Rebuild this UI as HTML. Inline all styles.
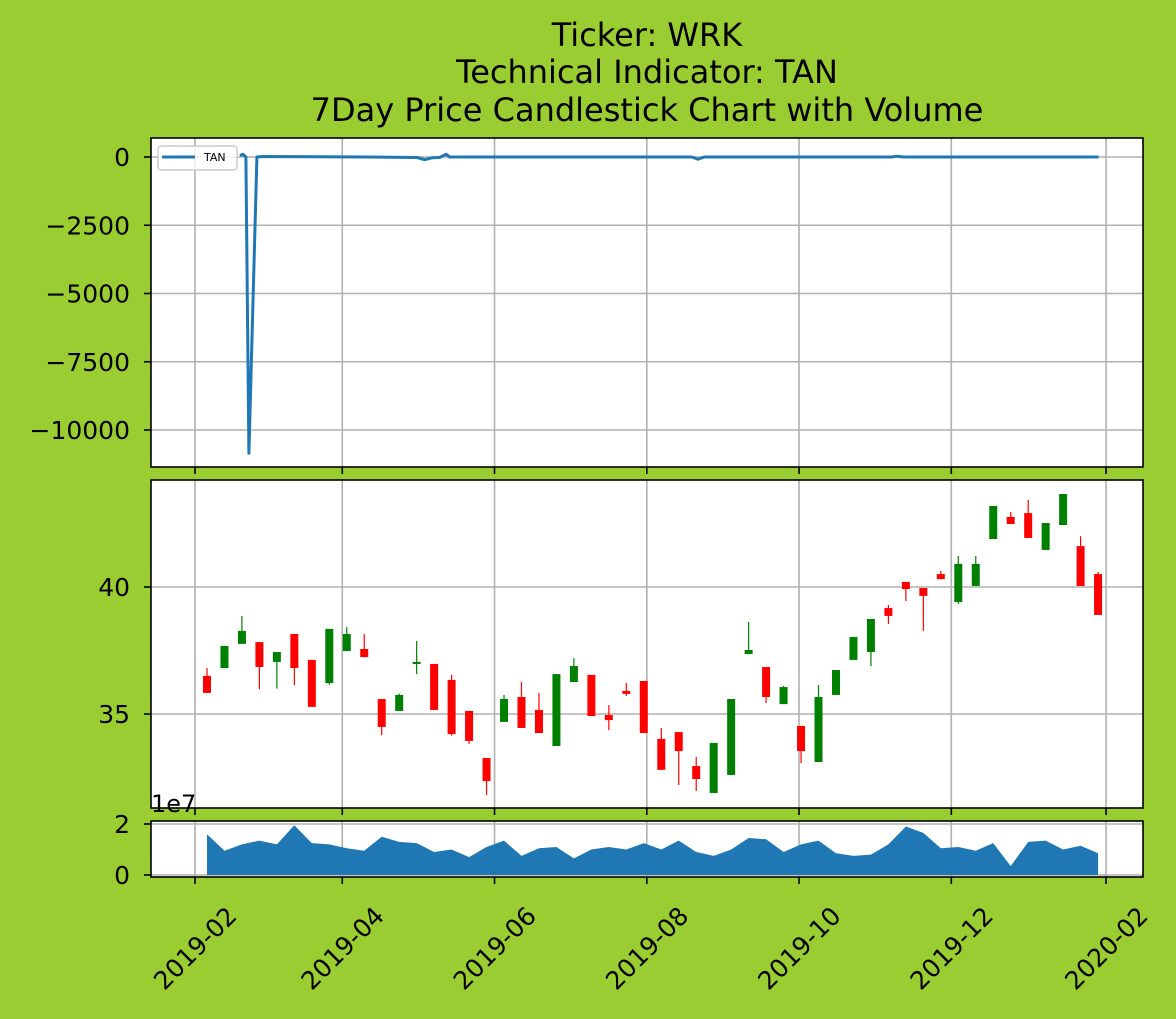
<!DOCTYPE html>
<html><head><meta charset="utf-8">
<style>
html,body{margin:0;padding:0;background:#9acd32;}
svg{display:block;font-family:"DejaVu Sans","Liberation Sans",sans-serif;}
</style></head>
<body>
<svg id="chart" width="1176" height="1019" viewBox="0 0 1176 1019" xmlns="http://www.w3.org/2000/svg">
<rect x="0" y="0" width="1176" height="1019" fill="#9acd32"/>
<g font-size="32" text-anchor="middle" fill="#000">
<text x="647" y="46">Ticker: WRK</text>
<text x="647" y="83">Technical Indicator: TAN</text>
<text x="647" y="121">7Day Price Candlestick Chart with Volume</text>
</g>
<g id="g"></g>
</svg>
<script>
// x tick data (day of year 2019)
const xTickDays = [31, 90, 151, 212, 273, 334, 396];
const xTickLabels = ["2019-02","2019-04","2019-06","2019-08","2019-10","2019-12","2020-02"];
// TAN indicator
const tanDays = [49, 50.2, 51.4, 52.6, 55.8, 58, 100, 120, 123, 126, 129, 131.6, 133, 180, 230, 232.5, 235, 290, 310, 312, 315, 360, 393];
const tanValues = [50, 100, 0, -10850, 0, 20, 0, -20, -100, -30, -20, 100, 0, 0, 0, -80, 0, 0, 0, 30, 0, 0, 0];
const tanTicks = [0, -2500, -5000, -7500, -10000];
const tanTickLabels = ["0","\u22122500","\u22125000","\u22127500","\u221210000"];
// weekly candles
const firstCandleDay = 35.8;
const opens  = [36.50,36.81,37.76,37.83,37.05,38.15,37.13,36.22,37.48,37.56,35.59,35.12,36.97,36.97,36.34,35.12,33.27,34.69,35.67,35.16,33.74,36.26,36.54,34.96,35.91,36.30,34.02,34.29,32.95,31.89,32.60,37.36,36.85,35.39,34.53,33.11,35.75,37.13,37.44,39.17,40.20,39.96,40.51,39.41,40.04,41.89,42.76,42.91,41.46,42.44,41.61,40.51];
const closes = [35.83,37.68,38.27,36.85,37.44,36.81,35.28,38.35,38.15,37.24,34.49,35.75,37.05,35.16,34.21,33.94,32.36,35.59,34.45,34.25,36.57,36.89,34.92,34.76,35.79,34.25,32.80,33.54,32.44,33.86,35.59,37.52,35.67,36.06,33.54,35.67,36.73,38.03,38.74,38.86,39.92,39.65,40.31,40.91,40.91,43.19,42.48,41.93,42.52,43.66,40.04,38.90];
const highs  = [36.81,37.68,38.86,37.83,37.44,38.15,37.13,38.35,38.43,38.15,35.59,35.80,37.87,36.97,36.54,35.12,33.27,35.75,36.26,35.83,36.57,37.20,36.54,35.35,36.22,36.30,34.45,34.29,33.31,33.86,35.59,38.62,36.85,36.10,34.53,36.14,36.73,38.03,38.74,39.29,40.20,39.96,40.63,41.22,41.22,43.19,42.95,43.43,42.52,43.66,42.00,40.59];
const lows   = [35.83,36.81,37.76,35.98,36.00,36.14,35.28,36.15,37.48,37.24,34.17,35.12,36.57,35.16,34.15,33.82,31.81,34.69,34.45,34.25,33.74,36.26,34.92,34.37,35.71,34.25,32.80,32.20,31.97,31.89,32.60,37.36,35.43,35.39,33.07,33.11,35.75,37.13,36.89,38.54,39.45,38.27,40.31,39.33,40.04,41.89,42.48,41.93,41.46,42.44,40.04,38.90];
const priceTicks = [35, 40];
const priceTickLabels = ["35","40"];
// volume (units of 1e7)
const volumes = [1.6,0.95,1.2,1.35,1.2,1.95,1.25,1.2,1.05,0.95,1.5,1.3,1.25,0.9,1.0,0.7,1.1,1.35,0.75,1.05,1.1,0.65,1.0,1.1,1.0,1.25,1.0,1.35,0.9,0.75,1.0,1.45,1.4,0.9,1.2,1.35,0.85,0.75,0.8,1.2,1.9,1.65,1.05,1.1,0.95,1.25,0.35,1.3,1.35,1.0,1.15,0.85];
const volTicks = [0, 2];
const volTickLabels = ["0","2"];

const NS="http://www.w3.org/2000/svg";
const G=document.getElementById('g');
function el(tag, attrs, parent){const e=document.createElementNS(NS,tag);for(const k in attrs)e.setAttribute(k,attrs[k]);(parent||G).appendChild(e);return e;}
const L=151,R=1143;
const x=d=>L+(d-13.37)/(410.8-13.37)*(R-L);
const P1={t:138,b:467}, P2={t:480,b:808}, P3={t:821,b:877};
const yTan=v=>157-(v/1000)*27.3;
const yPrice=v=>587-(v-40)*25.4;
const yVol=v=>875-v*25.5;

function panel(p,name){
  const g=el('g',{});
  
  
  el('rect',{x:L,y:p.t,width:R-L,height:p.b-p.t,fill:'#fff'},g);
  xTickDays.forEach(d=>{const l=el('line',{x1:x(d),x2:x(d),y1:p.t,y2:p.b,stroke:'#b0b0b0','stroke-width':1.6},g);
    });
  return g;
}
function frame(p,g){el('rect',{x:L,y:p.t,width:R-L,height:p.b-p.t,fill:'none',stroke:'#000','stroke-width':1.6},g);
  xTickDays.forEach(d=>el('line',{x1:x(d),x2:x(d),y1:p.b,y2:p.b+7,stroke:'#000','stroke-width':1.6},g));}
function yTicks(p,g,vals,labels,fy){
  vals.forEach((v,i)=>{const yy=fy(v);
    el('line',{x1:L,x2:R,y1:yy,y2:yy,stroke:'#b0b0b0','stroke-width':1.6},g);
    el('line',{x1:L-7,x2:L,y1:yy,y2:yy,stroke:'#000','stroke-width':1.6},g);
    const t=el('text',{x:L-21,y:yy+9,'text-anchor':'end','font-size':25,fill:'#000'},g);t.textContent=labels[i];
    });
}
// Panel 1: TAN
const g1=panel(P1,'tan-panel');
yTicks(P1,g1,tanTicks,tanTickLabels,yTan);
const tanPath=el('path',{d:tanDays.map((d,i)=>(i?'L':'M')+x(d).toFixed(1)+','+yTan(tanValues[i]).toFixed(1)).join(''),fill:'none',stroke:'#1f77b4','stroke-width':3,'stroke-linejoin':'round'},g1);


const leg=el('g',{},g1);


el('rect',{x:158,y:146,width:79,height:24,rx:3,fill:'#fff','fill-opacity':0.8,stroke:'#ccc','stroke-width':1.5},leg);
el('line',{x1:162,x2:195,y1:157,y2:157,stroke:'#1f77b4','stroke-width':3},leg);
const lt=el('text',{x:204,y:161,'font-size':11,fill:'#000'},leg);lt.textContent='TAN';
frame(P1,g1);
// Panel 2: candles
const g2=panel(P2,'price-panel');
yTicks(P2,g2,priceTicks,priceTickLabels,yPrice);
opens.forEach((o,i)=>{
  const c=closes[i],cx=x(firstCandleDay+7*i),col=c>=o?'#008000':'#ff0000';
  const cg=el('g',{},g2);
  
  
  el('line',{x1:cx,x2:cx,y1:yPrice(highs[i]),y2:yPrice(lows[i]),stroke:col,'stroke-width':1.2},cg);
  const top=yPrice(Math.max(o,c)),bot=yPrice(Math.min(o,c));
  el('rect',{x:cx-4,y:top,width:8,height:Math.max(1.5,bot-top),fill:col},cg);
});
frame(P2,g2);
const e7=el('text',{x:151,y:812,'font-size':24,fill:'#000'});e7.textContent='1e7';


// Panel 3: volume
const g3=panel(P3,'volume-panel');
yTicks(P3,g3,volTicks,volTickLabels,yVol);
let vd='M'+x(firstCandleDay).toFixed(1)+','+yVol(0);
volumes.forEach((v,i)=>{vd+='L'+x(firstCandleDay+7*i).toFixed(1)+','+yVol(v).toFixed(1);});
vd+='L'+x(firstCandleDay+7*(volumes.length-1)).toFixed(1)+','+yVol(0)+'Z';
const va=el('path',{d:vd,fill:'#1f77b4'},g3);


frame(P3,g3);
// x tick labels
xTickDays.forEach((d,i)=>{
  const tx=x(d),ty=948;
  const t=el('text',{x:tx,y:ty+9,'text-anchor':'middle','font-size':25,fill:'#000',transform:`rotate(-45 ${tx} ${ty})`});
  t.textContent=xTickLabels[i];
  
  
});
</script>
</body></html>
